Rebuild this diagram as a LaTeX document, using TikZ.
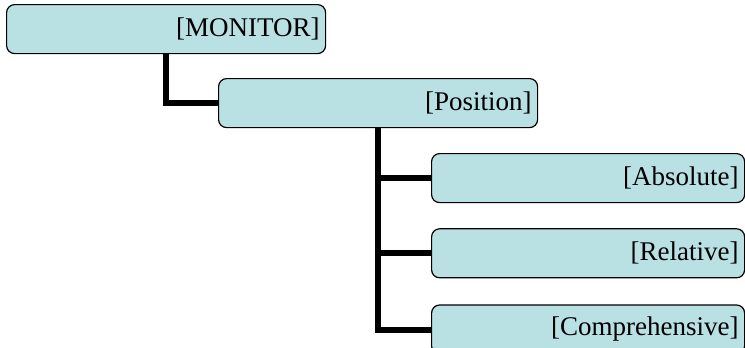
\documentclass[tikz,border=0pt]{standalone}
\usepackage{fontspec}
\setmainfont{Liberation Serif}
\usetikzlibrary{positioning}
\definecolor{boxfill}{RGB}{185,224,227}
\tikzstyle{block} = [rectangle, draw, line width=1.2pt, fill=boxfill,
    rounded corners=8pt, minimum height=49pt, inner sep=6pt,
    align=right, font=\fontsize{27}{32}\selectfont, anchor=north west]
\tikzstyle{line} = [draw, line width=6pt]

\begin{document}
\begin{tikzpicture}[x=1pt, y=-1pt, node distance=25pt]
	\useasboundingbox (0,0) rectangle (745,348);

		\node [block, text width=307pt] at (6,4) (monitor) {[MONITOR]};
		\node [block, text width=307pt] at (218,78) (position) {[Position]};

		\node [block, text width=301pt] at (431,153) (absolute) {[Absolute]};
		\node [block, text width=301pt, below=25pt of absolute] (relative) {[Relative]};
		\node [block, text width=301pt, below=26pt of relative] (comprehensive) {[Comprehensive]};

		\path [line] (monitor.south) |- (position.west);
		\path [line] (position.south) |- (absolute.west);
		\path [line] (position.south) |- (relative.west);
		\path [line] (position.south) |- (comprehensive.west);
	\end{tikzpicture}
\end{document}
